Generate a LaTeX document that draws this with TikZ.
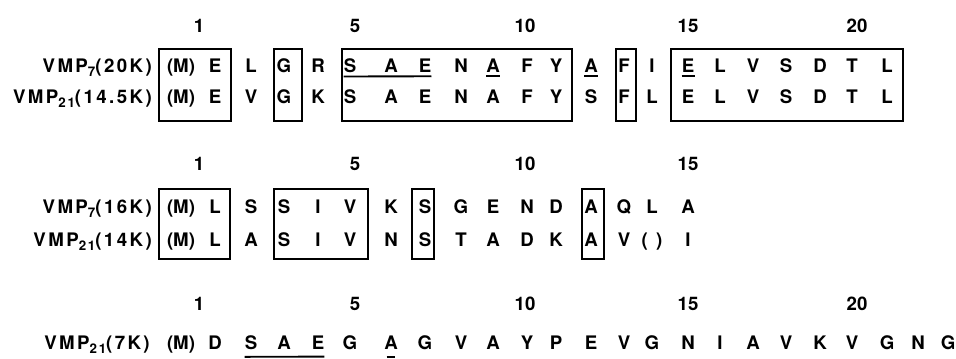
\documentclass[tikz,border=0pt]{standalone}
\usepackage{fontspec}
\setmainfont{TeX Gyre Heros}
\newfontfamily\vmpfont{TeX Gyre Heros}[LetterSpace=13]
\newcommand\vsub[1]{\raisebox{-3.5pt}{\fontsize{10}{10}\selectfont #1}}
\begin{document}
\begin{tikzpicture}[x=0.75pt,y=-0.75pt,font=\fontsize{14}{16}\selectfont\bfseries]
\useasboundingbox (0,0) rectangle (956,358);
\def\colx{{181,215,251,284,318,350,391,425,461,493,527,556,591,624,652,688,720,753,786,820,852,887,918,948}}
% position numbers
\foreach \x/\n in {199/1,355/5,525/10,688/15,857/20}
  \node[anchor=base,inner sep=0pt] (numA\n) at (\x,32) {\n};
\foreach \x/\n in {199/1,355/5,525/10,688/15}
  \node[anchor=base,inner sep=0pt] (numB\n) at (\x,170) {\n};
\foreach \x/\n in {199/1,355/5,525/10,688/15,857/20}
  \node[anchor=base,inner sep=0pt] (numC\n) at (\x,310) {\n};
% names of the proteins
\node[anchor=base east,inner sep=0pt,font=\fontsize{14}{16}\selectfont\vmpfont\bfseries] (nameA) at (152,72) {VMP\vsub{7}(20K)};
\node[anchor=base east,inner sep=0pt,font=\fontsize{14}{16}\selectfont\vmpfont\bfseries] (nameB) at (152,103) {VMP\vsub{21}(14.5K)};
\node[anchor=base east,inner sep=0pt,font=\fontsize{14}{16}\selectfont\vmpfont\bfseries] (nameC) at (152,213) {VMP\vsub{7}(16K)};
\node[anchor=base east,inner sep=0pt,font=\fontsize{14}{16}\selectfont\vmpfont\bfseries] (nameD) at (152,246) {VMP\vsub{21}(14K)};
\node[anchor=base east,inner sep=0pt,font=\fontsize{14}{16}\selectfont\vmpfont\bfseries] (nameE) at (150,349) {VMP\vsub{21}(7K)};
% sequences
\foreach \r [count=\c from 0] in {{(M)},E,L,G,R,S,A,E,N,A,F,Y,A,F,I,E,L,V,S,D,T,L}{
  \pgfmathsetmacro{\xx}{\colx[\c]}
  \node[anchor=base,inner sep=0pt] (top7-\c) at (\xx,72) {\r};
}
\foreach \r [count=\c from 0] in {{(M)},E,V,G,K,S,A,E,N,A,F,Y,S,F,L,E,L,V,S,D,T,L}{
  \pgfmathsetmacro{\xx}{\colx[\c]}
  \node[anchor=base,inner sep=0pt] (top21-\c) at (\xx,103) {\r};
}
\foreach \r [count=\c from 0] in {{(M)},L,S,S,I,V,K,S,G,E,N,D,A,Q,L,A}{
  \pgfmathsetmacro{\xx}{\colx[\c]}
  \node[anchor=base,inner sep=0pt] (mid7-\c) at (\xx,213) {\r};
}
\foreach \r [count=\c from 0] in {{(M)},L,A,S,I,V,N,S,T,A,D,K,A,V,{(\hspace{0.45em})},I}{
  \pgfmathsetmacro{\xx}{\colx[\c]}
  \node[anchor=base,inner sep=0pt] (mid21-\c) at (\xx,246) {\r};
}
\foreach \r [count=\c from 0] in {{(M)},D,S,A,E,G,A,G,V,A,Y,P,E,V,G,N,I,A,V,K,V,G,N,G}{
  \pgfmathsetmacro{\xx}{\colx[\c]}
  \node[anchor=base,inner sep=0pt] (low21-\c) at (\xx,349) {\r};
}
% boxed identities
\foreach \l/\r in {159/231,274/302,342/572,616/636,671/903}
  \draw[line width=1.4pt] (\l,49) rectangle (\r,121);
\foreach \l/\r in {159/230,274/368,412/434,582/604}
  \draw[line width=1.4pt] (\l,189) rectangle (\r,259);
% underlined residues
\draw[line width=1.4pt] ([yshift=-3pt]top7-5.south west) -- ([yshift=-3pt]top7-7.south east);
\draw[line width=1.4pt] ([yshift=-3pt]top7-9.south west) -- ([yshift=-3pt]top7-9.south east);
\draw[line width=1.4pt] ([yshift=-3pt]top7-12.south west) -- ([yshift=-3pt]top7-12.south east);
\draw[line width=1.4pt] ([yshift=-3pt]top7-15.south west) -- ([yshift=-3pt]top7-15.south east);
\draw[line width=1.4pt] ([yshift=-5.5pt]low21-2.south west) -- ([yshift=-5.5pt]low21-4.south east);
\draw[line width=1.4pt] ([yshift=-5.5pt,xshift=2pt]low21-6.south west) -- ([yshift=-5.5pt,xshift=-2pt]low21-6.south east);
\end{tikzpicture}
\end{document}
